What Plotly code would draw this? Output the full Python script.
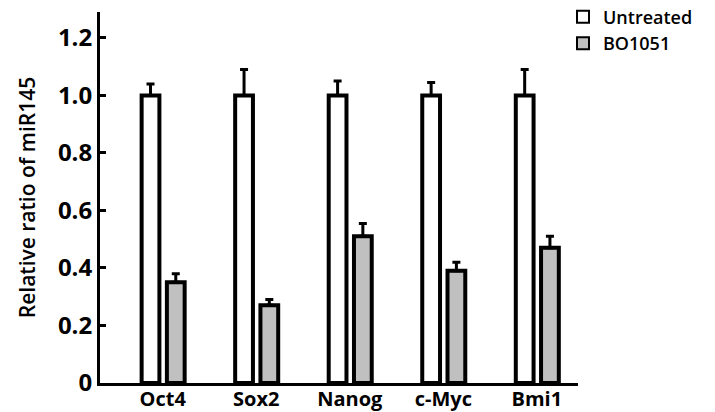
import plotly.graph_objects as go

categories = ["Oct4", "Sox2", "Nanog", "c-Myc", "Bmi1"]
untreated = [1.0, 1.0, 1.0, 1.0, 1.0]
untreated_err = [0.04, 0.09, 0.05, 0.045, 0.09]
bo1051 = [0.35, 0.27, 0.51, 0.39, 0.47]
bo1051_err = [0.03, 0.02, 0.045, 0.03, 0.04]
y_ticks = [0, 0.2, 0.4, 0.6, 0.8, 1.0, 1.2]
y_ticklabels = ["0", "0.2", "0.4", "0.6", "0.8", "1.0", "1.2"]

font_family = "Open Sans, Arial, sans-serif"

fig = go.Figure()
fig.add_trace(go.Bar(
    x=categories, y=untreated, name="Untreated",
    width=0.19, offset=-0.225,
    marker=dict(color="white", line=dict(color="black", width=4)),
    error_y=dict(type="data", array=untreated_err, arrayminus=[0]*5, symmetric=False,
                 color="black", thickness=3, width=4),
))
fig.add_trace(go.Bar(
    x=categories, y=bo1051, name="BO1051",
    width=0.19, offset=0.045,
    marker=dict(color="#c0c0c0", line=dict(color="black", width=4)),
    error_y=dict(type="data", array=bo1051_err, arrayminus=[0]*5, symmetric=False,
                 color="black", thickness=3, width=4),
))

fig.update_layout(
    width=715, height=412,
    margin=dict(l=100, r=137, t=12, b=29, autoexpand=False),
    paper_bgcolor="white", plot_bgcolor="white",
    barmode="overlay",
    font=dict(family=font_family, color="black"),
    showlegend=True,
    legend=dict(x=1.0 - 15/478, y=1.036, xanchor="left", yanchor="top",
                font=dict(size=18, family=font_family, color="black", weight=600),
                bgcolor="rgba(0,0,0,0)", tracegroupgap=0, itemsizing="constant",
                itemwidth=30),
)
fig.update_xaxes(
    range=[-0.67, 4.44], showline=True, linecolor="black", linewidth=3,
    ticks="", showgrid=False, zeroline=False, automargin=False,
    tickfont=dict(size=20, family=font_family, weight="bold"),
    ticklabelstandoff=-4,
)
fig.update_yaxes(
    range=[0, 1.29], showline=True, linecolor="black", linewidth=3,
    ticks="inside", ticklen=6, tickwidth=3, tickcolor="black",
    tickvals=y_ticks, ticktext=y_ticklabels,
    showgrid=False, zeroline=False, automargin=False,
    tickfont=dict(size=24, family=font_family, weight="bold"),
    title=dict(text="Relative ratio of miR145", font=dict(size=21, family=font_family, weight=600), standoff=17),
)

fig.write_html("out.html", config={"displayModeBar": False},
               post_script="document.body.style.margin='0px';")
